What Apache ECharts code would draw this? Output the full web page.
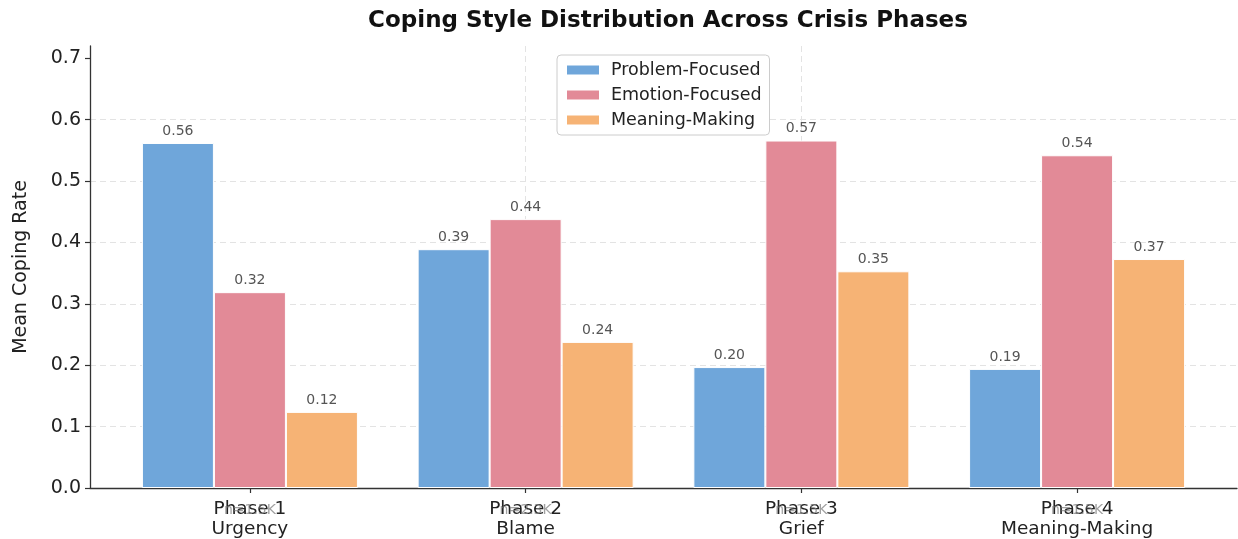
<!DOCTYPE html>
<html>
<head>
<meta charset="utf-8">
<script src="https://cdn.jsdelivr.net/npm/echarts@6/dist/echarts.min.js"></script>
<style>
  html, body { margin: 0; padding: 0; background: #fff; }
  #chart { width: 1238px; height: 539px; }
</style>
</head>
<body>
<div id="chart"></div>
<script>
const phases = ['Phase 1\nUrgency', 'Phase 2\nBlame', 'Phase 3\nGrief', 'Phase 4\nMeaning-Making']
const sampleSizes = ['n=1.5K', 'n=2.3K', 'n=1.5K', 'n=1.5K']
const seriesNames = ['Problem-Focused', 'Emotion-Focused', 'Meaning-Making']
const problemFocused = [0.562, 0.389, 0.197, 0.194]
const emotionFocused = [0.319, 0.438, 0.566, 0.542]
const meaningMaking = [0.124, 0.238, 0.353, 0.373]
const yTicks = [0, 0.1, 0.2, 0.3, 0.4, 0.5, 0.6, 0.7]

const colors = ['#6fa6da', '#e28a97', '#f6b375']
const font = 'DejaVu Sans'
const positions = phases.map((p, i) => i)

const chart = echarts.init(document.getElementById('chart'))

const makeSeries = (name, values, color) => ({
  name,
  type: 'bar',
  data: values.map((v, i) => [i, v]),
  barWidth: 72,
  barGap: '0%',
  itemStyle: {
    color,
    borderColor: '#ffffff',
    borderWidth: 1
  },
  label: {
    show: true,
    position: 'top',
    distance: 5,
    fontFamily: font,
    fontSize: 14,
    color: '#555555',
    formatter: (p) => p.value[1].toFixed(2)
  }
})

const option = {
  animation: false,
  title: {
    text: 'Coping Style Distribution Across Crisis Phases',
    left: 663,
    top: 5,
    textAlign: 'center',
    textStyle: {
      fontFamily: font,
      fontSize: 23,
      fontWeight: 'bold',
      color: '#111111'
    }
  },
  legend: {
    orient: 'vertical',
    left: 557,
    top: 55,
    icon: 'rect',
    itemWidth: 34,
    itemHeight: 11,
    itemGap: 5,
    padding: [5, 8, 5, 8],
    backgroundColor: '#ffffff',
    borderColor: '#cccccc',
    borderWidth: 1,
    borderRadius: 4,
    textStyle: {
      fontFamily: font,
      fontSize: 17.5,
      lineHeight: 20,
      color: '#222222',
      padding: [0, 0, 0, 6]
    },
    data: seriesNames
  },
  grid: {
    left: 90,
    right: 1,
    top: 46,
    bottom: 51
  },
  xAxis: [
    {
      type: 'value',
      min: -0.58,
      max: 3.58,
      position: 'bottom',
      offset: 0,
      axisLine: { onZero: false, lineStyle: { color: '#333333', width: 1.3 } },
      axisTick: {
        show: true,
        customValues: positions,
        length: 5,
        lineStyle: { color: '#333333', width: 1.2 }
      },
      axisLabel: {
        customValues: positions,
        margin: 11,
        fontFamily: font,
        fontSize: 18.5,
        lineHeight: 20,
        color: '#222222',
        formatter: (v) => phases[Math.round(v)]
      },
      splitLine: {
        show: true,
        showMinLine: false,
        showMaxLine: false,
        lineStyle: { color: '#e3e3e3', type: [6, 4], width: 1 }
      }
    },
    {
      type: 'value',
      min: -0.58,
      max: 3.58,
      position: 'bottom',
      offset: 0,
      axisLine: { show: false },
      axisTick: { show: false },
      splitLine: { show: false },
      axisLabel: {
        customValues: positions,
        margin: 15,
        fontFamily: font,
        fontSize: 14,
        color: 'rgba(130,130,130,0.75)',
        formatter: (v) => sampleSizes[Math.round(v)]
      }
    }
  ],
  yAxis: {
    type: 'value',
    min: 0,
    max: 0.72,
    interval: 0.1,
    name: 'Mean Coping Rate',
    nameLocation: 'middle',
    nameGap: 59,
    nameTextStyle: {
      fontFamily: font,
      fontSize: 19,
      color: '#222222'
    },
    axisLine: { show: true, onZero: false, lineStyle: { color: '#333333', width: 1.3 } },
    axisTick: {
      show: true,
      customValues: yTicks,
      length: 5,
      lineStyle: { color: '#333333', width: 1.2 }
    },
    axisLabel: {
      customValues: yTicks,
      margin: 9,
      fontFamily: font,
      fontSize: 19,
      color: '#222222',
      formatter: (v) => v.toFixed(1)
    },
    splitLine: {
      show: true,
      showMinLine: false,
      showMaxLine: false,
      lineStyle: { color: '#e3e3e3', type: [6, 4], width: 1 }
    }
  },
  series: [
    makeSeries(seriesNames[0], problemFocused, colors[0]),
    makeSeries(seriesNames[1], emotionFocused, colors[1]),
    makeSeries(seriesNames[2], meaningMaking, colors[2])
  ]
}

chart.setOption(option)
</script>
</body>
</html>
